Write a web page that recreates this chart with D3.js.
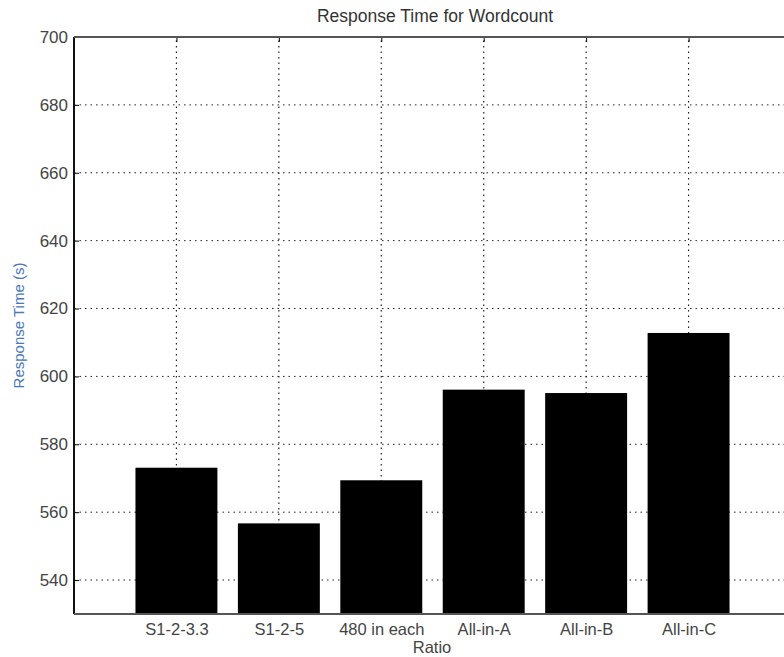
<!DOCTYPE html>
<html>
<head>
  <meta charset="utf-8">
  <title>Response Time for Wordcount</title>
  <script src="https://cdn.jsdelivr.net/npm/d3@7"></script>
  <style>
    body { margin: 0; background: #fff; }
    text { font-family: "Liberation Sans", Arial, sans-serif; }
  </style>
</head>
<body>
  <script type="text/javascript">
    // data
    var categories = ["S1-2-3.3", "S1-2-5", "480 in each", "All-in-A", "All-in-B", "All-in-C"];
    var responseTimes = [573.1, 556.7, 569.4, 596.1, 595.1, 612.8];
    var yTicks = [540, 560, 580, 600, 620, 640, 660, 680, 700];

    var w = 784;
    var h = 657;

    var svg = d3.select("body")
      .append("svg")
      .attr("width", w)
      .attr("height", h);

    // x runs past the right edge, like the cropped original
    var x = d3.scaleLinear().domain([0, 7]).range([74, 791]);
    var y = d3.scaleLinear().domain([530, 700]).range([614, 37]);
    var barW = x(0.8) - x(0);

    // grid
    var grid = svg.append("g").attr("class", "grid");
    grid.selectAll("line.hg")
      .data(yTicks)
      .enter()
      .append("line")
      .attr("x1", x(0)).attr("x2", x(7))
      .attr("y1", d => y(d)).attr("y2", d => y(d))
      .attr("stroke", "#222")
      .attr("stroke-width", 1)
      .attr("stroke-dasharray", "1.5,4");

    grid.selectAll("line.vg")
      .data(categories)
      .enter()
      .append("line")
      .attr("x1", (d, i) => x(i + 1)).attr("x2", (d, i) => x(i + 1))
      .attr("y1", y(530)).attr("y2", y(700))
      .attr("stroke", "#222")
      .attr("stroke-width", 1.2)
      .attr("stroke-dasharray", "1.5,4");

    // bars
    svg.selectAll("rect.bar")
      .data(responseTimes)
      .enter()
      .append("rect")
      .attr("class", "bar")
      .attr("x", (d, i) => x(i + 1) - barW / 2)
      .attr("width", barW)
      .attr("y", d => y(d))
      .attr("height", d => y(530) - y(d))
      .attr("fill", "#000");

    // axes
    var yAxis = d3.axisLeft(y).tickValues(yTicks).tickSize(-5).tickPadding(6);
    var gy = svg.append("g")
      .attr("transform", "translate(" + x(0) + ",0)")
      .call(yAxis);
    gy.select(".domain").remove();
    gy.selectAll("text")
      .attr("font-size", 17)
      .attr("fill", "#444")
      .attr("font-family", "Liberation Sans, Arial, sans-serif");

    var xAxis = d3.axisBottom(x)
      .tickValues(d3.range(1, categories.length + 1))
      .tickFormat(d => categories[d - 1])
      .tickSize(-5)
      .tickPadding(9);
    var gx = svg.append("g")
      .attr("transform", "translate(0," + y(530) + ")")
      .call(xAxis);
    gx.select(".domain").remove();
    gx.selectAll("text")
      .attr("font-size", 16.5)
      .attr("fill", "#444")
      .attr("font-family", "Liberation Sans, Arial, sans-serif");

    var xTop = d3.axisTop(x)
      .tickValues(d3.range(1, categories.length + 1))
      .tickFormat("")
      .tickSize(-5);
    var gt = svg.append("g")
      .attr("transform", "translate(0," + y(700) + ")")
      .call(xTop);
    gt.select(".domain").remove();

    // box lines
    svg.append("line")
      .attr("x1", x(0)).attr("x2", x(0))
      .attr("y1", y(700)).attr("y2", y(530))
      .attr("stroke", "#111").attr("stroke-width", 2);
    svg.append("line")
      .attr("x1", x(0)).attr("x2", x(7))
      .attr("y1", y(530)).attr("y2", y(530))
      .attr("stroke", "#555").attr("stroke-width", 1.8);
    svg.append("line")
      .attr("x1", x(0)).attr("x2", x(7))
      .attr("y1", y(700)).attr("y2", y(700))
      .attr("stroke", "#555").attr("stroke-width", 2);

    // labels
    svg.append("text")
      .attr("x", 435)
      .attr("y", 22)
      .attr("text-anchor", "middle")
      .attr("font-size", 17.5)
      .attr("fill", "#333")
      .text("Response Time for Wordcount");

    svg.append("text")
      .attr("x", 432)
      .attr("y", 653)
      .attr("text-anchor", "middle")
      .attr("font-size", 16.5)
      .attr("fill", "#444")
      .text("Ratio");

    svg.append("text")
      .attr("transform", "translate(24," + y(615) + ") rotate(-90)")
      .attr("text-anchor", "middle")
      .attr("font-size", 15)
      .attr("fill", "#4a78b8")
      .text("Response Time (s)");
  </script>
</body>
</html>
